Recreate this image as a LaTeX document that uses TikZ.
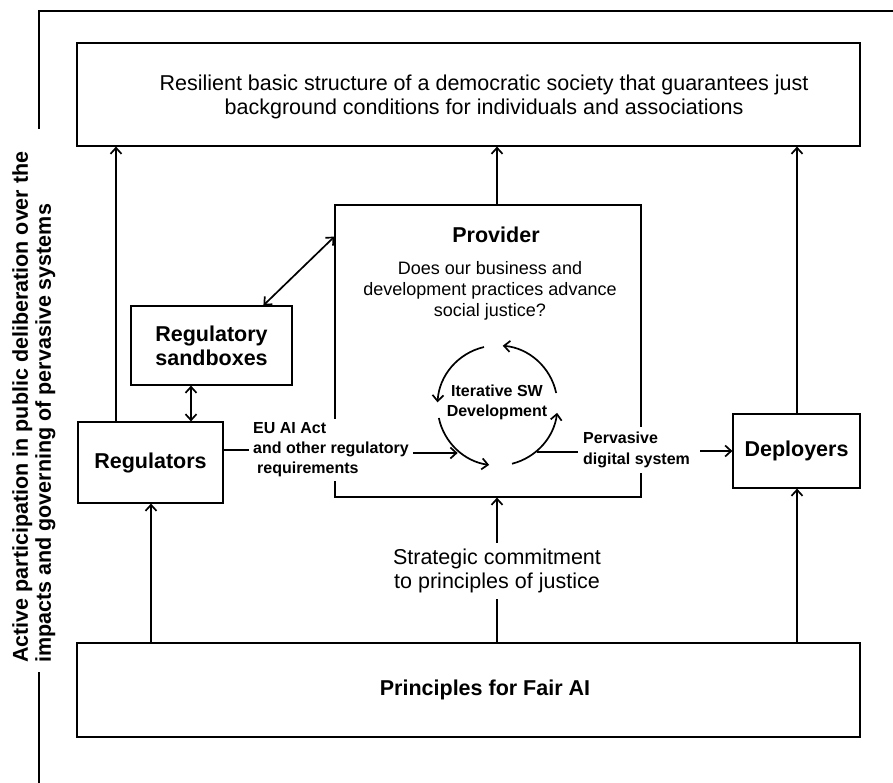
\documentclass[tikz,border=0pt]{standalone}
\usepackage{fontspec}
\setmainfont{Liberation Sans}
\usetikzlibrary{arrows.meta,calc}

\begin{document}
\begin{tikzpicture}[x=1pt,y=-1pt,
  box/.style={draw, line width=1.2pt, inner sep=0pt},
  conn/.style={line width=1.7pt},
  arr/.style={conn, -{Straight Barb[length=6pt,width=11pt]}},
  darr/.style={conn, {Straight Barb[length=6pt,width=11pt]}-{Straight Barb[length=6pt,width=11pt]}},
  bigbold/.style={font=\fontsize{21.5}{24}\selectfont\bfseries},
  bigreg/.style={font=\fontsize{21.5}{23.5}\selectfont},
  midreg/.style={font=\fontsize{18}{21}\selectfont},
  smallbold/.style={font=\fontsize{16}{20}\selectfont\bfseries},
  gap/.style={fill=white}
]
\useasboundingbox (0,0) rectangle (893,783);

% outer bracket
\draw[line width=1.3pt] (39,129) -- (39,11) -- (893,11);
\draw[line width=1.3pt] (39,672) -- (39,783);
\node[rotate=90, anchor=north west, align=left, inner sep=0pt,
      font=\fontsize{21.5}{23}\selectfont\bfseries] (side) at (12,663)
  {Active participation in public deliberation over the\\impacts and governing of pervasive systems};

% boxes
\node[box, minimum width=783pt, minimum height=103pt] (top) at (468.5,94.5) {};
\node[bigreg, align=center] (toptxt) at (484,97)
  {Resilient basic structure of a democratic society that guarantees just\\background conditions for individuals and associations};

\node[box, minimum width=306pt, minimum height=292pt] (prov) at (488,351) {};
\node[bigbold] (provt) at (496,235) {Provider};
\node[midreg, align=center] (provq) at (490,291)
  {Does our business and\\development practices advance\\social justice?};

\node[box, minimum width=161pt, minimum height=79pt, bigbold, align=center] (sb) at (211.5,345.5)
  {Regulatory\\sandboxes};
\node[box, minimum width=145pt, minimum height=81pt, bigbold] (reg) at (150.5,462.5) {Regulators};
\node[box, minimum width=127pt, minimum height=74pt, bigbold] (dep) at (796.5,451) {Deployers};
\node[box, minimum width=783pt, minimum height=94pt] (pr) at (468.5,690) {};
\node[bigbold] (prt) at (485,690) {Principles for Fair AI};

% development cycle
\coordinate (cyc) at (497.5,405.5);
\node[smallbold, align=center] (iter) at (497,402) {Iterative SW\\Development};
\draw[arr] ($(cyc)+(103:60pt)$) arc[start angle=103, end angle=177, radius=60pt];
\draw[arr] ($(cyc)+(192:60pt)$) arc[start angle=192, end angle=262, radius=60pt];
\draw[arr] ($(cyc)+(284:60pt)$) arc[start angle=284, end angle=353, radius=60pt];
\draw[arr] ($(cyc)+(12:60pt)$) arc[start angle=12, end angle=85, radius=60pt];

% regulatory input
\node[smallbold, gap, align=left, anchor=west, inner sep=4pt] (eu) at (249,450)
  {EU AI Act\\and other regulatory\\\hspace{4pt}requirements};
\coordinate (cin) at ($(cyc)+(230:62pt)$);
\draw[conn] (reg.east |- eu.west) -- (eu.west);
\draw[arr] (eu.east |- cin) -- (cin);

% system output
\node[gap, align=left, anchor=west, inner sep=5pt, font=\fontsize{16}{21}\selectfont\bfseries] (pv) at (578,450)
  {Pervasive\\digital system};
\coordinate (cout) at ($(cyc)+(310:61pt)$);
\draw[conn] (cout) -- (pv.west |- cout);
\draw[arr, shorten <=5pt] (pv.east |- dep.west) -- (dep.west);

% strategic commitment
\node[gap, align=center, inner sep=6pt, font=\fontsize{21.5}{24}\selectfont] (sc) at (497,571)
  {Strategic commitment\\to principles of justice};
\draw[conn] (pr.north -| sc) -- (sc.south);
\draw[arr] (sc.north) -- (prov.south -| sc);

% columns of vertical connectors
\coordinate (colL) at (116,0);
\coordinate (colA) at (151,0);
\coordinate (colS) at (191,0);
\coordinate (colB) at (497,0);
\coordinate (colC) at (797,0);

\draw[arr] (reg.north -| colL) -- (top.south -| colL);
\draw[arr] (prov.north -| colB) -- (top.south -| colB);
\draw[arr] (dep.north -| colC) -- (top.south -| colC);
\draw[arr] (pr.north -| colA) -- (reg.south -| colA);
\draw[arr] (pr.north -| colC) -- (dep.south -| colC);
\draw[darr] (sb.south -| colS) -- (reg.north -| colS);
\draw[darr] ($(sb.north west)!0.82!(sb.north east)$) -- ($(prov.north west)!0.11!(prov.south west)$);
\end{tikzpicture}
\end{document}
